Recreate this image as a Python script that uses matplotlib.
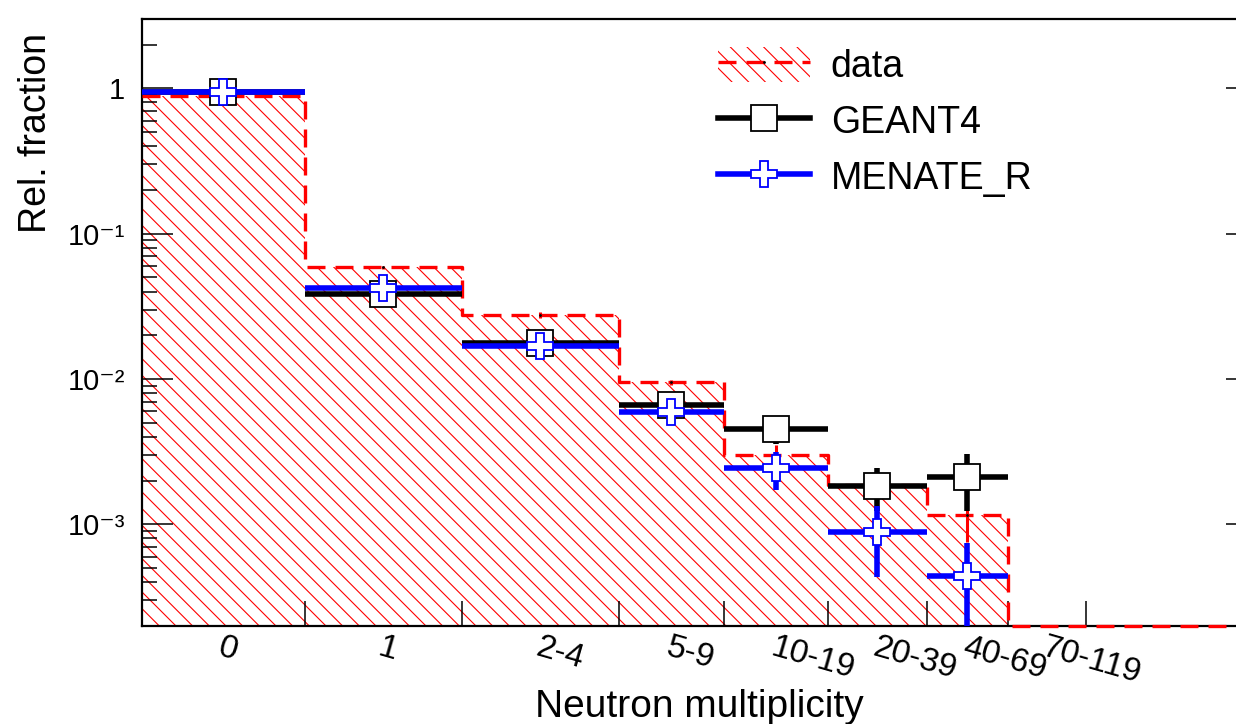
import numpy as np
import matplotlib
matplotlib.use("Agg")
import matplotlib.pyplot as plt
from matplotlib.patches import Patch
from matplotlib.lines import Line2D
from matplotlib.ticker import FixedLocator, FixedFormatter, LogLocator, NullFormatter

plt.rcParams['font.family'] = ['Liberation Sans', 'DejaVu Sans']
plt.rcParams['hatch.linewidth'] = 0.8
plt.rcParams['hatch.color'] = 'red'

# ---------------- data ----------------
bin_labels = ['0', '1', '2-4', '5-9', '10-19', '20-39', '40-69', '70-119']
bin_edges = [0.0, 1.63, 3.20, 4.77, 5.82, 6.86, 7.85, 8.66, 9.44, 11.15]

data_vals = [0.885, 0.0586, 0.0275, 0.0095, 0.0030, 0.00188, 0.00116, 0.0, 0.0]
data_err = [0.005, 0.001, 0.0013, 0.0004, 0.0005, 0.00035, 0.0004, 0.0, 0.0]

geant4_vals = [0.95, 0.0382, 0.0176, 0.00665, 0.00455, 0.00183, 0.00213]
geant4_err = [0.003, 0.001, 0.0006, 0.0003, 0.001, 0.0006, 0.0009]

menate_vals = [0.95, 0.042, 0.01675, 0.00596, 0.00243, 0.000883, 0.00044]
menate_err = [0.003, 0.001, 0.0006, 0.0004, 0.0007, 0.00045, 0.00031]

ytick_vals = [1e-3, 1e-2, 1e-1, 1.0]
ytick_labels = ['10\u207b\u00b3', '10\u207b\u00b2', '10\u207b\u00b9', '1']
y_limits = (2.0e-4, 3.0)

# ---------------- layout ----------------
W, H = 1236, 724
fig = plt.figure(figsize=(W / 100, H / 100), dpi=100)
ax_l, ax_r, ax_t, ax_b = 142, 1257, 19, 626
ax = fig.add_axes([ax_l / W, (H - ax_b) / H, (ax_r - ax_l) / W, (ax_b - ax_t) / H])

edges = np.array(bin_edges)
centers = 0.5 * (edges[:-1] + edges[1:])
halfw = 0.5 * (edges[1:] - edges[:-1])

ax.set_yscale('log')
ax.set_xlim(edges[0], edges[-1])
ax.set_ylim(*y_limits)
ymin = ax.get_ylim()[0]

HATCH = '\\\\'  # two backslashes

# data histogram: hatched fill + dashed outline
dv = np.array(data_vals)
dv_plot = np.where(dv > 0, dv, ymin)
step_y = np.append(dv_plot, dv_plot[-1])
ax.fill_between(edges, step_y, ymin, step='post', facecolor='none',
                edgecolor='red', linewidth=0, hatch=HATCH, zorder=1)
ax.plot(edges, step_y, drawstyle='steps-post', color='red', lw=2.4,
        linestyle=(0, (5.4, 3.0)), zorder=3, clip_on=False)
nz = dv > 0
ax.errorbar(centers[nz], dv[nz], yerr=np.array(data_err)[nz], fmt='none',
            ecolor='red', elinewidth=2.2, capsize=0, zorder=3)
ax.plot(centers[nz], dv[nz], ls='none', marker='.', ms=2, color='black', zorder=3)

# GEANT4
n = len(geant4_vals)
ax.errorbar(centers[:n], geant4_vals, xerr=halfw[:n], yerr=geant4_err, fmt='s',
            color='black', ecolor='black', elinewidth=4.0, capsize=0,
            mfc='white', mec='black', ms=18.5, mew=1.3, zorder=4)
# MENATE_R
n = len(menate_vals)
ax.errorbar(centers[:n], menate_vals, xerr=halfw[:n], yerr=menate_err, fmt='P',
            color='blue', ecolor='blue', elinewidth=4.0, capsize=0,
            mfc='white', mec='blue', ms=19, mew=1.3, zorder=5)

# axes styling
for s in ax.spines.values():
    s.set_linewidth(1.6)
ax.yaxis.set_major_locator(FixedLocator(ytick_vals))
ax.yaxis.set_major_formatter(FixedFormatter(ytick_labels))
ax.yaxis.set_minor_locator(LogLocator(base=10, subs=np.arange(2, 10)))
ax.yaxis.set_minor_formatter(NullFormatter())
ax.tick_params(axis='y', which='major', direction='in', length=22.3, width=1.1,
               right=True, labelsize=21, pad=12)
ax.tick_params(axis='y', which='minor', direction='in', length=10.8, width=1.1, right=True)

ax.set_xticks(edges[1:-1])
ax.set_xticklabels([])
ax.set_xticks(centers[:len(bin_labels)], minor=True)
ax.set_xticklabels(bin_labels, minor=True)
ax.tick_params(axis='x', which='major', direction='in', length=18, width=1.1, top=False)
ax.tick_params(axis='x', which='minor', length=0, labelsize=24, pad=4, top=False)
for t in ax.get_xticklabels(minor=True):
    t.set_rotation(-16)
    t.set_rotation_mode('anchor')
    t.set_ha('left')
    t.set_va('top')

fig.text(36 / W, 1 - 33 / H, 'Rel. fraction', rotation=90, ha='center', va='top', fontsize=27)
fig.text(0.5 * (ax_l + ax_r) / W, (H - 717) / H, 'Neutron multiplicity', ha='center',
         va='baseline', fontsize=28)

# legend
h_data = (Patch(facecolor='none', edgecolor='red', hatch=HATCH, linewidth=0),
          Line2D([], [], color='red', lw=2.4, linestyle=(0, (5.4, 3.0)),
                 marker='.', ms=2, mfc='black', mec='black'))
h_g4 = Line2D([], [], color='black', lw=4.0, marker='s', ms=18.5, mfc='white',
              mec='black', mew=1.3)
h_men = Line2D([], [], color='blue', lw=4.0, marker='P', ms=19, mfc='white',
               mec='blue', mew=1.3)
fig.legend([h_data, h_g4, h_men], ['data', 'GEANT4', 'MENATE_R'],
           loc='upper left', bbox_to_anchor=(718 / W, 1 - 47 / H),
           bbox_transform=fig.transFigure, frameon=False, fontsize=27,
           borderpad=0, borderaxespad=0, handlelength=2.45, handleheight=1.04,
           handletextpad=0.56, labelspacing=0.48, numpoints=1)

fig.savefig('out.png', dpi=100)
